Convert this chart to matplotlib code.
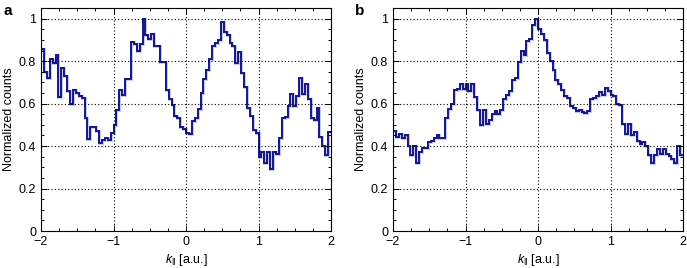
import matplotlib
matplotlib.use("Agg")
import matplotlib.pyplot as plt
import numpy as np
from matplotlib.ticker import MultipleLocator

plt.rcParams.update({
    "font.family": ["Liberation Sans", "DejaVu Sans"],
    "mathtext.fontset": "custom",
    "mathtext.it": "Liberation Sans:italic",
    "mathtext.rm": "Liberation Sans",
    "font.size": 9,
})

# --- data: normalized counts in 100 bins over k = -2 .. 2 ---
k_edges = np.linspace(-2, 2, 101)

counts_a = [
    0.855, 0.75, 0.72, 0.81, 0.79, 0.83, 0.63, 0.77, 0.73, 0.66,
    0.60, 0.665, 0.65, 0.635, 0.625, 0.53, 0.435, 0.49, 0.49, 0.47,
    0.415, 0.43, 0.44, 0.43, 0.46, 0.50, 0.57, 0.665, 0.64, 0.715,
    0.715, 0.89, 0.88, 0.85,
    0.88, 1.0, 0.925, 0.905, 0.93, 0.87, 0.87, 0.795, 0.795, 0.665,
    0.62, 0.595, 0.54, 0.53, 0.49, 0.48, 0.46, 0.455, 0.52, 0.53,
    0.575, 0.65, 0.715, 0.76, 0.81, 0.87, 0.885, 0.90, 0.985, 0.935,
    0.925, 0.885,
    0.87, 0.79, 0.845, 0.745, 0.68, 0.58, 0.54, 0.475, 0.46, 0.35,
    0.37, 0.32, 0.37, 0.29, 0.37, 0.365, 0.44, 0.53, 0.535, 0.59,
    0.645, 0.59, 0.635, 0.72, 0.645, 0.69, 0.62, 0.53, 0.525, 0.58,
    0.445, 0.40, 0.36, 0.465,
]

counts_b = [
    0.47, 0.445, 0.457, 0.44, 0.45, 0.40, 0.36, 0.40, 0.32, 0.37,
    0.39, 0.39, 0.42, 0.425, 0.44, 0.45, 0.44, 0.44, 0.53, 0.575,
    0.60, 0.665, 0.67, 0.69, 0.67, 0.69, 0.66, 0.69, 0.63,
    0.57, 0.50, 0.57, 0.505, 0.525, 0.55, 0.567, 0.55, 0.57, 0.62,
    0.64, 0.66, 0.71, 0.72, 0.797, 0.847, 0.827, 0.895, 0.905, 0.97,
    1.0,
    0.953, 0.93, 0.90, 0.84, 0.80, 0.76, 0.713, 0.69, 0.666, 0.635,
    0.627, 0.587, 0.58, 0.564, 0.57,
    0.56, 0.555, 0.565, 0.623, 0.628, 0.636, 0.655, 0.64, 0.675, 0.66,
    0.64, 0.636, 0.60, 0.595, 0.503, 0.455, 0.503, 0.45, 0.466, 0.424,
    0.408, 0.42, 0.40, 0.36, 0.318, 0.36, 0.387, 0.365, 0.387, 0.365,
    0.353, 0.337, 0.318, 0.40, 0.36,
]

x_ticks = [-2, -1, 0, 1, 2]
x_tick_labels = ["\u22122", "\u22121", "0", "1", "2"]
y_ticks = [0, 0.2, 0.4, 0.6, 0.8, 1.0]
y_tick_labels = ["0", "0.2", "0.4", "0.6", "0.8", "1"]

fig = plt.figure(figsize=(6.87, 2.68), dpi=100)

line_col = "#17177e"
halo_col = "#9aa6ff"

panels = [("a", counts_a, 41), ("b", counts_b, 393)]
for label, counts, left_px in panels:
    ax = fig.add_axes([left_px / 687, 0.138, 290 / 687, 0.832])
    ax.stairs(counts, k_edges, baseline=None, color=halo_col, lw=2.2, alpha=0.6)
    ax.stairs(counts, k_edges, baseline=None, color=line_col, lw=1.4)

    ax.set_xlim(-2, 2)
    ax.set_ylim(0, 1.05)
    ax.set_xticks(x_ticks)
    ax.set_xticklabels(x_tick_labels)
    ax.set_yticks(y_ticks)
    ax.set_yticklabels(y_tick_labels)
    ax.xaxis.set_minor_locator(MultipleLocator(0.25))
    ax.yaxis.set_minor_locator(MultipleLocator(0.05))
    ax.tick_params(which="both", direction="in", top=True, right=True,
                   labelsize=9, width=0.7)
    ax.tick_params(which="major", length=4)
    ax.tick_params(which="minor", length=2)
    ax.grid(True, which="major", linestyle=(0, (1, 2)), color="black", lw=0.8)
    for sp in ax.spines.values():
        sp.set_linewidth(0.8)

    ax.set_xlabel(r"$k_{\|}$ [a.u.]", fontsize=9, labelpad=3)
    ax.set_ylabel("Normalized counts", fontsize=9, labelpad=3)

    fig.text((left_px - 38) / 687, 0.985, label, fontsize=11, fontweight="bold",
             ha="left", va="top")

fig.savefig("out.png", dpi=100)
